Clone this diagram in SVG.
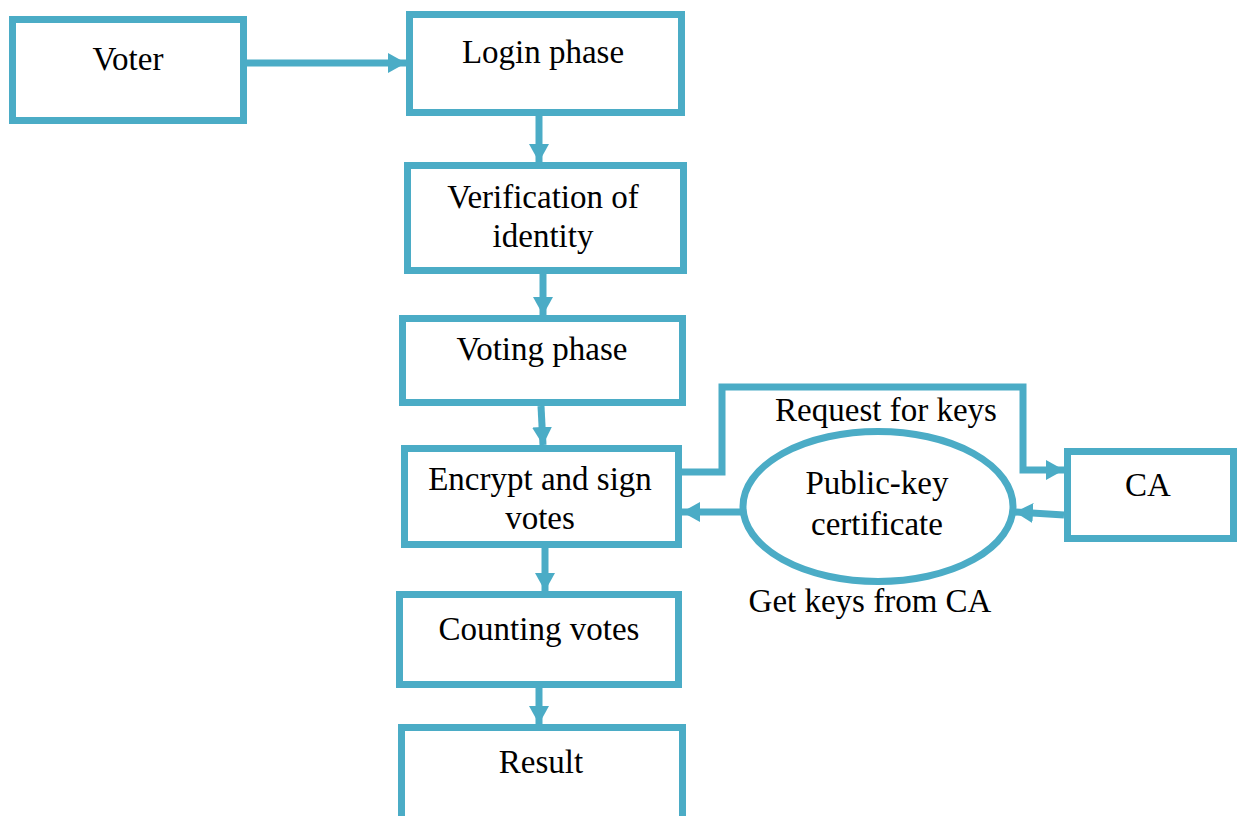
<svg xmlns="http://www.w3.org/2000/svg" width="1240" height="816" viewBox="0 0 1240 816">
  <style>
    .box { fill: #ffffff; stroke: #4bacc6; stroke-width: 7; }
    .link { fill: none; stroke: #4bacc6; stroke-width: 7; }
    .lbl { font-family: "Liberation Serif", "Times New Roman", serif; font-size: 33px; fill: #000000; text-anchor: middle; }
  </style>
  <defs>
    <marker id="arrow" markerUnits="userSpaceOnUse" markerWidth="22" markerHeight="22" refX="18" refY="10" orient="auto">
      <path d="M0,0 L18,10 L0,20 Z" fill="#4bacc6"/>
    </marker>
  </defs>
  <rect width="1240" height="816" fill="#ffffff"/>

  <g id="voter">
    <rect class="box" x="12.5" y="19.5" width="231" height="101"/>
    <text class="lbl" x="128" y="70">Voter</text>
  </g>
  <g id="login">
    <rect class="box" x="409.5" y="14.5" width="272" height="98"/>
    <text class="lbl" x="543" y="63">Login phase</text>
  </g>
  <g id="verification">
    <rect class="box" x="407.5" y="165.5" width="276" height="105"/>
    <text class="lbl" x="543" y="208">Verification of</text>
    <text class="lbl" x="543" y="247">identity</text>
  </g>
  <g id="voting">
    <rect class="box" x="402.5" y="318.5" width="280" height="84"/>
    <text class="lbl" x="542" y="360">Voting phase</text>
  </g>
  <g id="encrypt">
    <rect class="box" x="404.5" y="448.5" width="274" height="96"/>
    <text class="lbl" x="540" y="490">Encrypt and sign</text>
    <text class="lbl" x="540" y="529">votes</text>
  </g>
  <g id="counting">
    <rect class="box" x="399.5" y="594.5" width="279" height="90"/>
    <text class="lbl" x="539" y="640">Counting votes</text>
  </g>
  <g id="result">
    <rect class="box" x="401.5" y="727.5" width="281" height="100"/>
    <text class="lbl" x="541" y="773">Result</text>
  </g>
  <g id="certificate">
    <ellipse class="box" cx="878" cy="506.5" rx="135" ry="75"/>
    <text class="lbl" x="877" y="494">Public-key</text>
    <text class="lbl" x="877" y="535">certificate</text>
  </g>
  <g id="ca">
    <rect class="box" x="1067.5" y="451.5" width="166" height="87"/>
    <text class="lbl" x="1148" y="496">CA</text>
  </g>

  <!-- connectors and their labels -->
  <g id="connectors">
    <path class="link" d="M247,63 L406,63" marker-end="url(#arrow)"/>
    <path class="link" d="M539,116 L539,162" marker-end="url(#arrow)"/>
    <path class="link" d="M543,274 L543,315" marker-end="url(#arrow)"/>
    <path class="link" d="M541,406 L543,445" marker-end="url(#arrow)"/>
    <path class="link" d="M545,548 L545,591" marker-end="url(#arrow)"/>
    <path class="link" d="M539,688 L539,724" marker-end="url(#arrow)"/>
    <path class="link" d="M682,472 L722,472 L722,387 L1023,387 L1023,470 L1064,470" marker-end="url(#arrow)"/>
    <path class="link" d="M1064,515 L1015,512" marker-end="url(#arrow)"/>
    <path class="link" d="M741,512 L682,512" marker-end="url(#arrow)"/>
    <text class="lbl" x="886" y="421">Request for keys</text>
    <text class="lbl" x="870" y="612">Get keys from CA</text>
  </g>
</svg>
